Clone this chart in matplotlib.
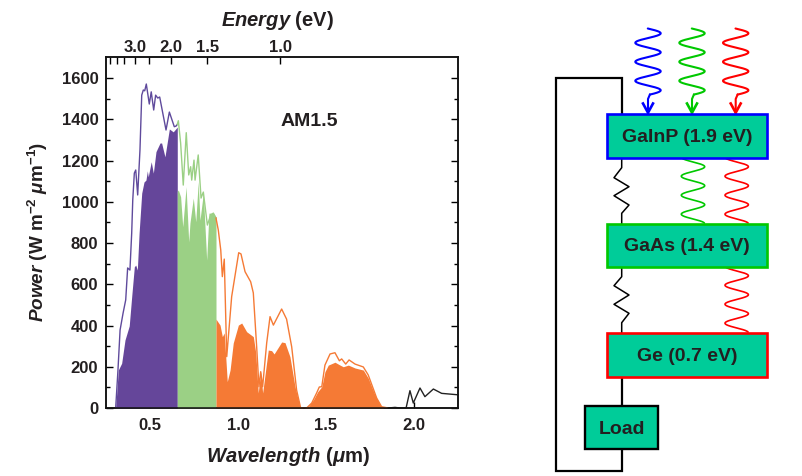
import numpy as np
import matplotlib
matplotlib.use('Agg')
import matplotlib.pyplot as plt
from matplotlib.patches import Rectangle

plt.rcParams['font.family'] = ['Liberation Sans', 'DejaVu Sans']
plt.rcParams['mathtext.fontset'] = 'custom'
plt.rcParams['mathtext.rm'] = 'Liberation Sans:bold'
plt.rcParams['mathtext.bf'] = 'Liberation Sans:bold'
plt.rcParams['mathtext.it'] = 'Liberation Sans:italic:bold'
plt.rcParams['mathtext.bfit'] = 'Liberation Sans:italic:bold'
plt.rcParams['mathtext.fallback'] = None

# AM1.5 spectrum outline, by absorbing junction
top_wl = [.305,.318,.330,.347,.362,.373,.386,.396,.402,.411,.419,.430,.443,.453,.462,.470,.479,.496,.507,.521,.532,.544,.555,.591,.610,.638,.648,.655]
top_p = [0,184,378,460,524,679,669,848,1008,1139,1154,1033,1251,1517,1542,1538,1571,1474,1533,1445,1517,1503,1508,1348,1435,1364,1367,1375]
mid_wl = [.655,.661,.674,.689,.706,.720,.731,.737,.750,.756,.774,.790,.803,.826,.845,.860,.875]
mid_p = [1375,1393,1285,1081,1335,1130,1170,1105,1202,1105,1227,1018,1047,887,936,945,921]
low_wl = [.875,.888,.902,.911,.922,.936,.964,1.004,1.017,1.040,1.072,1.087,1.106,1.119,1.129,1.140,1.163,1.182,1.201,1.248,1.276,1.305,1.333,1.356,1.390,1.419,1.447,1.462,1.476,1.494,1.523,1.551,1.576,1.589,1.612,1.631,1.665,1.712,1.740,1.788,1.816,1.854]
low_p = [921,863,766,637,722,249,540,753,747,661,612,558,297,103,176,103,315,443,402,480,431,297,87,0,0,24,73,102,103,208,262,268,229,238,213,233,213,199,160,48,6,0]
tail_wl = [1.854,1.892,1.920,1.955,1.977,1.996,2.034,2.062,2.110,2.157,2.25]
tail_p = [0,3,0,0,84,24,97,55,92,71,64]

# Power collected by each junction
top_fill_wl = [.305,.320,.339,.358,.382,.396,.411,.419,.428,.438,.453,.466,.477,.485,.490,.507,.519,.534,.557,.566,.585,.610,.632,.655]
top_fill_p = [0,184,217,330,398,540,685,693,669,848,1042,1096,1105,1150,1121,1194,1139,1243,1285,1285,1218,1353,1339,1362]
mid_fill_wl = [.655,.661,.674,.686,.705,.720,.727,.746,.760,.774,.784,.803,.822,.835,.860,.875]
mid_fill_p = [1050,1057,1024,879,1073,805,897,1018,903,1097,911,1042,717,945,945,926]
low_fill_wl = [.875,.898,.911,.922,.939,.955,.973,1.002,1.021,1.049,1.087,1.101,1.115,1.129,1.140,1.157,1.172,1.191,1.205,1.248,1.267,1.295,1.324,1.352,1.371,1.399,1.428,1.453,1.476,1.494,1.513,1.551,1.580,1.598,1.627,1.665,1.712,1.740,1.778,1.807,1.826]
low_fill_p = [431,402,346,364,128,184,315,402,412,370,346,267,73,176,73,184,281,278,262,320,317,249,103,6,0,6,39,79,103,176,208,222,208,200,208,194,184,145,63,15,0]

y_ticks = [0,200,400,600,800,1000,1200,1400,1600]
x_ticks = [0.5,1.0,1.5,2.0]
energy_major = [3.0,2.0,1.5,1.0]
energy_minor = [4.5,4.0,3.5,2.5]

PURPLE, GREEN, ORANGE = '#65469a', '#9bd085', '#f57a35'
DARK = '#231f20'

W, H = 802, 476
fig = plt.figure(figsize=(W/100, H/100), dpi=100)
ax = fig.add_axes([106/W, (H-408)/H, 352/W, 351/H])
ax.set_axisbelow(True)
ax.set_xlim(0.25, 2.25)
ax.set_ylim(0, 1702)
for w, p, c in [(top_fill_wl, top_fill_p, PURPLE), (mid_fill_wl, mid_fill_p, GREEN), (low_fill_wl, low_fill_p, ORANGE)]:
    ax.fill_between(w, p, 0, color=c, lw=0, zorder=3)
for w, p, c in [(top_wl, top_p, '#5f4a9c'), (mid_wl, mid_p, GREEN), (low_wl, low_p, ORANGE), (tail_wl, tail_p, '#222222')]:
    ax.plot(w, p, color=c, lw=1.0, zorder=4, clip_on=False if c == '#222222' else True)
ax.set_xticks(x_ticks)
ax.set_xticklabels(['0.5','1.0','1.5','2.0'])
ax.set_yticks(y_ticks)
ax.set_yticks(np.array(y_ticks[:-1]) + 100, minor=True)
ax.tick_params(axis='x', which='major', direction='in', length=4, width=1.0, top=False, pad=7, labelsize=12, labelcolor=DARK)
ax.tick_params(axis='y', which='major', direction='in', length=5, width=1.0, right=True, pad=5.5, labelsize=12, labelcolor=DARK)
ax.tick_params(axis='y', which='minor', direction='in', length=2.7, width=1.0, right=True)
for lab in ax.get_xticklabels() + ax.get_yticklabels():
    lab.set_fontweight('bold')
for s in ax.spines.values():
    s.set_linewidth(1.1)
    s.set_color('#111111')

sec = ax.twiny()
sec.set_xlim(ax.get_xlim())
sec.set_xticks([1.24/e for e in energy_major])
sec.set_xticklabels(['%.1f' % e for e in energy_major], fontweight='bold', fontsize=12, color=DARK)
sec.set_xticks([1.24/e for e in energy_minor], minor=True)
sec.tick_params(axis='x', which='major', direction='in', length=5.2, width=1.0, pad=1.5)
sec.tick_params(axis='x', which='minor', direction='in', length=4.8, width=1.0)
for s in sec.spines.values():
    s.set_linewidth(1.1)
    s.set_color('#111111')

ov = fig.add_axes([0, 0, 1, 1], zorder=5)
ov.set_xlim(0, W)
ov.set_ylim(H, 0)
ov.axis('off')

ov.text(309.5, 122, 'AM1.5', ha='center', va='center', fontsize=14, fontweight='bold', color=DARK)
ov.text(277, 20, r'$\mathit{Energy}$ (eV)', ha='center', va='center', fontsize=14.5, fontweight='bold', color=DARK)
ov.text(288, 456, r'$\mathit{Wavelength}$ ($\mathit{\mu}$m)', ha='center', va='center', fontsize=14.6, fontweight='bold', color=DARK)
ov.text(38, 232, r'$\mathit{Power}$ (W m$^{-2}$ $\mathit{\mu}$m$^{-1}$)', ha='center', va='center', rotation=90, fontsize=13.6, fontweight='bold', color=DARK)

# Circuit wiring
ov.plot([622,622,556,556,622,622], [114,78,78,470.7,470.7,449], color='k', lw=1.6, solid_joinstyle='miter')
ov.plot([622,622], [377,406], color='k', lw=1.6)
res_x = [621.7,621.7,614,629,614,629,621.7,621.7]
for ys in ([157.7,167.7,177.7,186.7,195.7,205,213.3,224], [266.7,276.7,285.7,295,304.3,313.3,322.7,333]):
    ov.plot(res_x, ys, color='k', lw=1.1)

def wave(cx, amp, y_first, y_start, y_end, color, lw):
    ys = np.linspace(y_start, y_end, 300)
    xs = cx + amp*np.cos(2*np.pi*(ys-y_first)/19.0)
    ov.plot(xs, ys, color=color, lw=lw, solid_capstyle='round')
    return xs[-1], ys[-1]

for cx, c in [(648,'#0000ff'), (692,'#00c800'), (735.7,'#ff0000')]:
    xe, ye = wave(cx, 12.7, 33.3, 28.5, 94.6, c, 1.5)
    ov.plot([xe, cx, cx], [ye, 99, 112.7], color=c, lw=1.5)
    ov.plot([cx-5, cx, cx+5], [103.5, 112.7, 103.5], color=c, lw=1.9, solid_joinstyle='miter')

wave(693, 11.7, 166.7, 158, 223, '#00c800', 1.2)
wave(736.7, 11.7, 166.7, 158, 223, '#ff0000', 1.2)
wave(736.7, 11.7, 275.7, 267.5, 332, '#ff0000', 1.2)

# Junctions and load
BOX = '#00cc99'
for x0, x1, y0, y1, ec, lw, label, fs in [
    (607,767,114,157.7,'#0000ff',1.9,'GaInP (1.9 eV)',14),
    (607,767,224,266.7,'#00c800',1.9,'GaAs (1.4 eV)',14),
    (607,767,333,376.7,'#ff0000',1.9,'Ge (0.7 eV)',14),
    (585,658,406,449,'#000000',1.7,'Load',14)]:
    ov.add_patch(Rectangle((x0, y0), x1-x0, y1-y0, fc=BOX, ec=ec, lw=lw, zorder=6))
    ov.text((x0+x1)/2, (y0+y1)/2+1.5, label, ha='center', va='center', fontsize=fs, fontweight='bold', color=DARK, zorder=7)

fig.savefig('out.png', dpi=100)
